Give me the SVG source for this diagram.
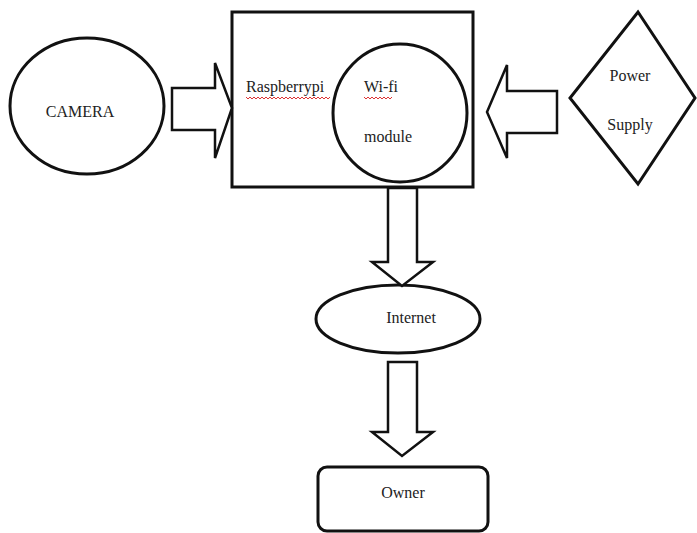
<svg xmlns="http://www.w3.org/2000/svg" width="697" height="533" viewBox="0 0 697 533">
<style>
.s{fill:#fff;stroke:#111;stroke-width:3}
.a{fill:#fff;stroke:#111;stroke-width:2.5;stroke-linejoin:miter}
.t{font-family:"Liberation Serif",serif;font-size:16px;fill:#222}
.sq{fill:none;stroke:#d33;stroke-width:1}
</style>
<rect width="697" height="533" fill="#fff"/>
<g id="camera"><ellipse class="s" cx="87" cy="106" rx="77" ry="68"/><text class="t" x="80" y="117" text-anchor="middle">CAMERA</text></g>
<g id="raspberrypi"><rect class="s" x="232" y="12" width="241" height="175"/><text class="t" x="246" y="92">Raspberrypi</text>
<path class="sq" d="M246 97 l2 2 l2 -2 l2 2 l2 -2 l2 2 l2 -2 l2 2 l2 -2 l2 2 l2 -2 l2 2 l2 -2 l2 2 l2 -2 l2 2 l2 -2 l2 2 l2 -2 l2 2 l2 -2 l2 2 l2 -2 l2 2 l2 -2 l2 2 l2 -2 l2 2 l2 -2 l2 2 l2 -2 l2 2 l2 -2 l2 2 l2 -2 l2 2 l2 -2 l2 2 l2 -2 l2 2 l2 -2 l2 2 l2 -2"/></g>
<g id="wifi"><ellipse class="s" cx="400" cy="113" rx="67" ry="69"/><text class="t" x="364" y="92">Wi-fi</text><text class="t" x="364" y="142">module</text>
<path class="sq" d="M364 97 l2 2 l2 -2 l2 2 l2 -2 l2 2 l2 -2 l2 2 l2 -2 l2 2 l2 -2 l2 2 l2 -2 l2 2 l2 -2"/></g>
<g id="power"><polygon class="s" points="638,12 695,98 638,184 570,98"/><text class="t" x="630" y="81" text-anchor="middle">Power</text><text class="t" x="630" y="130" text-anchor="middle">Supply</text></g>
<g id="internet"><ellipse class="s" cx="398" cy="319" rx="82" ry="34"/><text class="t" x="411" y="323" text-anchor="middle">Internet</text></g>
<g id="owner"><rect class="s" x="318" y="467" width="170" height="64" rx="9"/><text class="t" x="403" y="498" text-anchor="middle">Owner</text></g>
<g id="connectors">
<polygon class="a" points="172,88 215,88 215,63 232,108 215,158 215,130 172,130"/>
<polygon class="a" points="557,91 507,91 507,65 487,112 507,158 507,133 557,133"/>
<polygon class="a" points="388,188 417,188 417,262 433,262 402,286 372,262 388,262"/>
<polygon class="a" points="388,362 417,362 417,432 433,432 402,456 372,432 388,432"/>
</g>
</svg>
